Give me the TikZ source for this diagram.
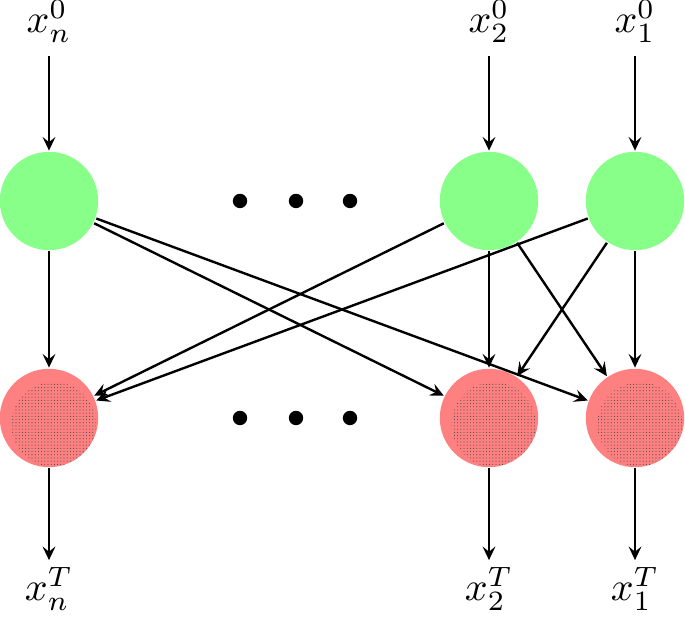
\documentclass[tikz,border=0pt]{standalone}
\usetikzlibrary{arrows.meta,patterns.meta}
\definecolor{gr}{RGB}{136,255,136}
\definecolor{rd}{RGB}{255,128,128}
\begin{document}
\begin{tikzpicture}[x=0.25pt,y=-0.25pt,line width=0.6pt,
  >={Stealth[length=3.4pt,width=3.2pt,inset=1.3pt]},
  gnode/.style={circle,fill=gr,minimum size=24.6pt,inner sep=0pt},
  rnode/.style={circle,fill=rd,minimum size=24.6pt,inner sep=0pt,
    path picture={\fill[pattern={Dots[distance=0.8pt,radius=0.14pt]},pattern color=black!70]
      ([xshift=1.2pt,yshift=-1.6pt]path picture bounding box.center) circle (10.6pt);}},
  dotn/.style={circle,fill=black,minimum size=3.6pt,inner sep=0pt},
  lab/.style={inner sep=3pt},
  edge/.style={->}]
\useasboundingbox (0,0) rectangle (685,618);
% top labels
\node[lab,anchor=base] (tn) at (49,33) {$x_n^0$};
\node[lab,anchor=base] (t2) at (489,33) {$x_2^0$};
\node[lab,anchor=base] (t1) at (635,33) {$x_1^0$};
% green nodes
\node[gnode] (gn) at (49,201) {};
\node[gnode] (g2) at (489,201) {};
\node[gnode] (g1) at (635,201) {};
% red nodes
\node[rnode] (rn) at (49,418) {};
\node[rnode] (r2) at (489,418) {};
\node[rnode] (r1) at (635,418) {};
% bottom labels
\node[lab,anchor=base,inner sep=1.5pt] (bn) at (49,601) {$x_n^T$};
\node[lab,anchor=base,inner sep=1.5pt] (b2) at (489,601) {$x_2^T$};
\node[lab,anchor=base,inner sep=1.5pt] (b1) at (635,601) {$x_1^T$};
% ellipsis dots
\node[dotn] (d1) at (240,201) {};
\node[dotn] (d2) at (296,201) {};
\node[dotn] (d3) at (350,201) {};
\node[dotn] (e1) at (240,418) {};
\node[dotn] (e2) at (296,418) {};
\node[dotn] (e3) at (350,418) {};
% edges
\draw[edge] (tn) -- (gn);
\draw[edge] (t2) -- (g2);
\draw[edge] (t1) -- (g1);
\draw[edge] (gn) -- (rn);
\draw[edge] (g2) -- (r2);
\draw[edge] (g1) -- (r1);
\draw[edge] (gn) -- (r2);
\draw[edge] (gn) -- (r1);
\draw[edge] (g2) -- (rn);
\draw[edge] (g1) -- (rn);
\draw[edge] (g2) -- (r1);
\draw[edge] (g1) -- (r2);
\draw[edge] (rn) -- (bn);
\draw[edge] (r2) -- (b2);
\draw[edge] (r1) -- (b1);
\end{tikzpicture}
\end{document}
